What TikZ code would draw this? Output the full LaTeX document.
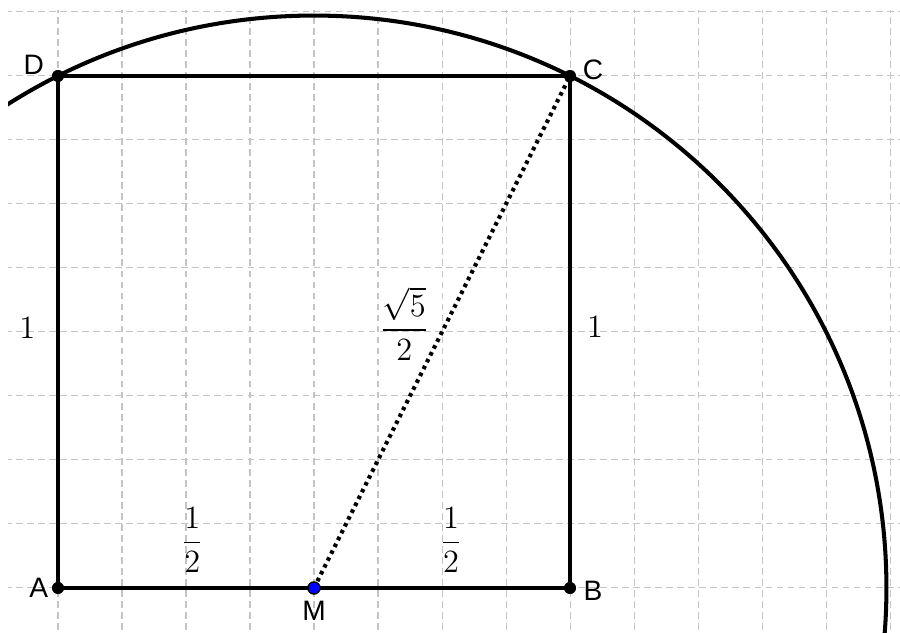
\documentclass[tikz,border=0pt]{standalone}
\usepackage{amsmath}
\usepackage{fontspec}
\newfontfamily\ptfont{Liberation Sans}
\usetikzlibrary{calc}
\definecolor{gridgray}{RGB}{196,196,196}
\definecolor{pointblue}{RGB}{0,0,255}

\begin{document}
\begin{tikzpicture}[
    gridline/.style={draw=gridgray, line width=0.45pt, dash pattern=on 3pt off 1.9pt},
    edge/.style={line width=1.8pt, black},
    segdots/.style={line width=1.8pt, black, dash pattern=on 1.6pt off 1.8pt},
    point/.style={circle, fill=black, inner sep=0pt, minimum size=5.4pt},
    ptlabel/.style={font=\ptfont\fontsize{12.5}{14}\selectfont, inner sep=0pt},
    mathlabel/.style={font=\fontsize{14.4}{17}\selectfont, inner sep=0pt}
]
    \useasboundingbox (-0.90625,-0.703125) rectangle (13.15625,9.1875);

    % square and midpoint
    \coordinate (A) at (0,0);
    \coordinate (B) at (8,0);
    \coordinate (C) at (8,8);
    \coordinate (D) at (0,8);
    \coordinate (M) at (4,0);

    \begin{scope}
        \clip (-0.78,-0.703125) rectangle (13.15625,9.03);
        \draw[gridline] (-1,-1) grid (14,10);
        \draw[edge] let \p1 = ($(C)-(M)$), \n1 = {veclen(\x1,\y1)} in
            (M) circle (\n1);
    \end{scope}

    \draw[edge] (A) -- (B) -- (C) -- (D) -- cycle;
    \draw[segdots] (M) -- (C);

    % points
    \node[point] (dotA) at (A) {};
    \node[point] (dotB) at (B) {};
    \node[point] (dotC) at (C) {};
    \node[point] (dotD) at (D) {};
    \node[point, fill=pointblue, draw=black, line width=0.6pt] (dotM) at (M) {};

    \node[ptlabel] (lblA) at (-0.3,0) {A};
    \node[ptlabel] (lblB) at (8.36,-0.04) {B};
    \node[ptlabel] (lblC) at (8.36,8.09) {C};
    \node[ptlabel] (lblD) at (-0.38,8.18) {D};
    \node[ptlabel] (lblM) at (4,-0.35) {M};

    % lengths
    \node[mathlabel] (sideAD) at (-0.48,4.06) {$1$};
    \node[mathlabel] (sideBC) at (8.39,4.08) {$1$};
    \node[mathlabel] (halfAM) at (2.1,0.75) {$\dfrac{1}{2}$};
    \node[mathlabel] (halfMB) at (6.14,0.75) {$\dfrac{1}{2}$};
    \node[mathlabel] (radMC) at (5.41,4.13) {$\dfrac{\sqrt{5}}{2}$};
\end{tikzpicture}
\end{document}
